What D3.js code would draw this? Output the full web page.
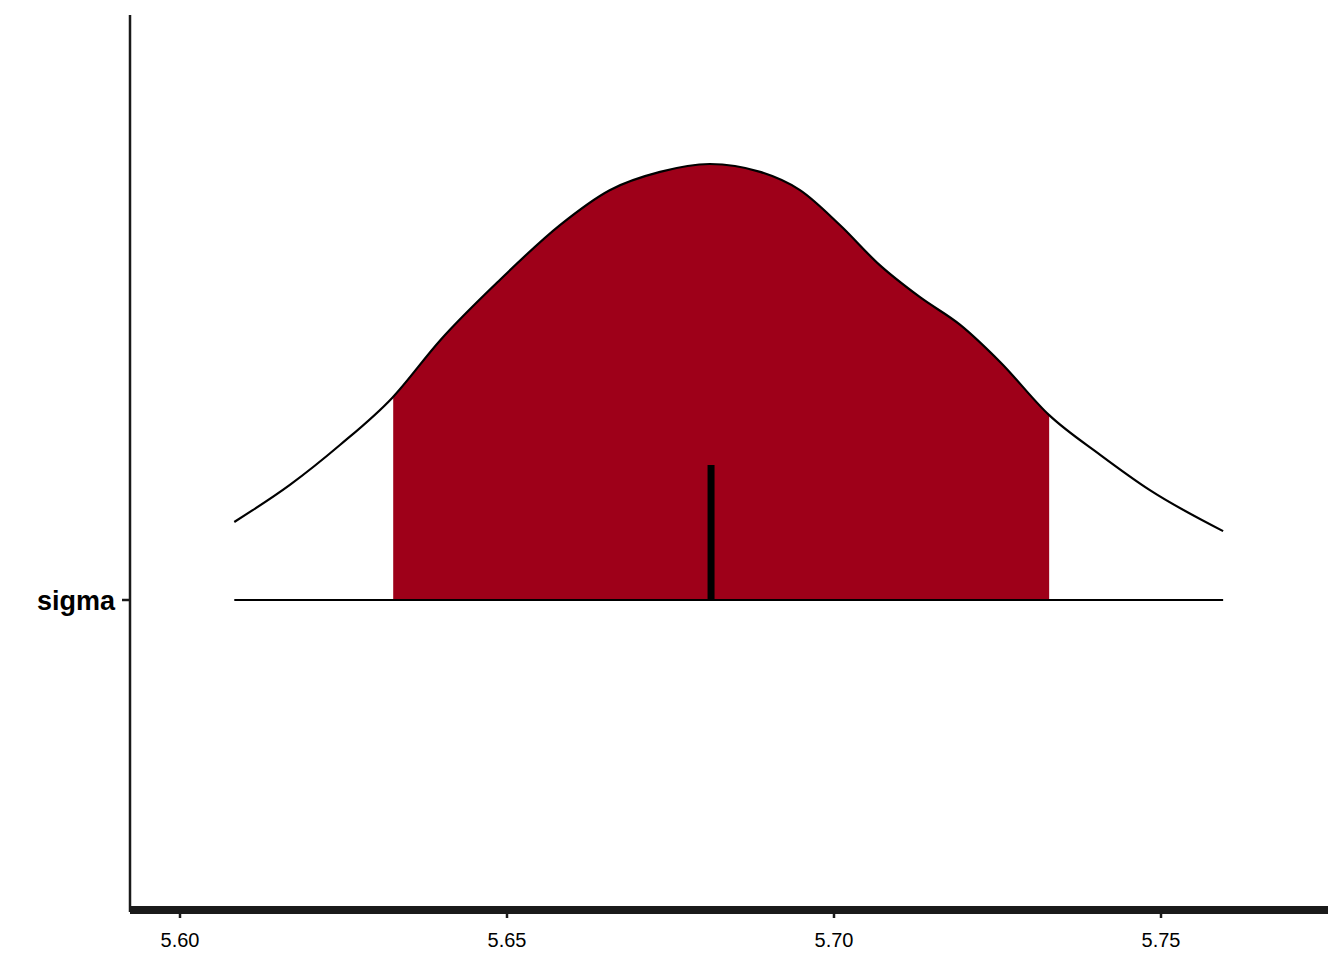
<!DOCTYPE html>
<html><head><meta charset="utf-8">
<script src="https://cdn.jsdelivr.net/npm/d3@7"></script>
<style>body{margin:0;background:#fff}</style>
</head><body>
<script>
var xs = [5.6083,5.6168,5.6245,5.6324,5.6398,5.6489,5.6581,5.6657,5.6734,5.6810,5.6887,5.6948,5.7009,5.7070,5.7131,5.7193,5.7254,5.7329,5.7407,5.7483,5.7595];
var dens = [.179,.264,.356,.463,.596,.734,.860,.940,.982,1,.982,.940,.860,.768,.695,.631,.546,.424,.333,.252,.158];
var ciLow = 5.6326, ciHigh = 5.7329, median = 5.6812;
var xTicks = [5.60,5.65,5.70,5.75];
var params = ["sigma"];

var W=1344,H=960;
var svg=d3.select("body").append("svg").attr("width",W).attr("height",H);
var x=d3.scaleLinear().domain([5.60,5.75]).range([180,1161]);
var base=600;
var h=d3.scaleLinear().domain([0,1]).range([0,436]);
var pts=xs.map((v,i)=>[v,dens[i]]);
var area=d3.area().curve(d3.curveMonotoneX).x(d=>x(d[0])).y0(base).y1(d=>base-h(d[1]));
var line=d3.line().curve(d3.curveMonotoneX).x(d=>x(d[0])).y(d=>base-h(d[1]));

svg.append("clipPath").attr("id","ci").append("rect")
 .attr("x",x(ciLow)).attr("width",x(ciHigh)-x(ciLow)).attr("y",0).attr("height",base);
svg.append("path").datum(pts).attr("d",area).attr("fill","#9E0019").attr("clip-path","url(#ci)");
svg.append("path").datum(pts).attr("d",line).attr("fill","none").attr("stroke","#000").attr("stroke-width",2.2);
svg.append("line").attr("x1",x(xs[0])).attr("x2",x(xs[xs.length-1])).attr("y1",base).attr("y2",base).attr("stroke","#000").attr("stroke-width",2.2);
svg.append("line").attr("x1",x(median)).attr("x2",x(median)).attr("y1",base-135).attr("y2",base).attr("stroke","#000").attr("stroke-width",7);

// axes
svg.append("line").attr("x1",130).attr("x2",130).attr("y1",15).attr("y2",912).attr("stroke","#1a1a1a").attr("stroke-width",2.5);
svg.append("line").attr("x1",130).attr("x2",1328).attr("y1",910).attr("y2",910).attr("stroke","#1a1a1a").attr("stroke-width",8);
xTicks.forEach(t=>{
  svg.append("line").attr("x1",x(t)).attr("x2",x(t)).attr("y1",910).attr("y2",918).attr("stroke","#1a1a1a").attr("stroke-width",2.5);
  svg.append("text").attr("x",x(t)).attr("y",947).attr("text-anchor","middle").attr("font-family","Liberation Sans, Arial").attr("font-size",20).text(t.toFixed(2));
});
params.forEach(p=>{
  svg.append("line").attr("x1",122).attr("x2",130).attr("y1",base).attr("y2",base).attr("stroke","#1a1a1a").attr("stroke-width",2.5);
  svg.append("text").attr("x",115).attr("y",base+10).attr("text-anchor","end").attr("font-family","Liberation Sans, Arial").attr("font-weight","bold").attr("font-size",27).text(p);
});
</script>
</body></html>
